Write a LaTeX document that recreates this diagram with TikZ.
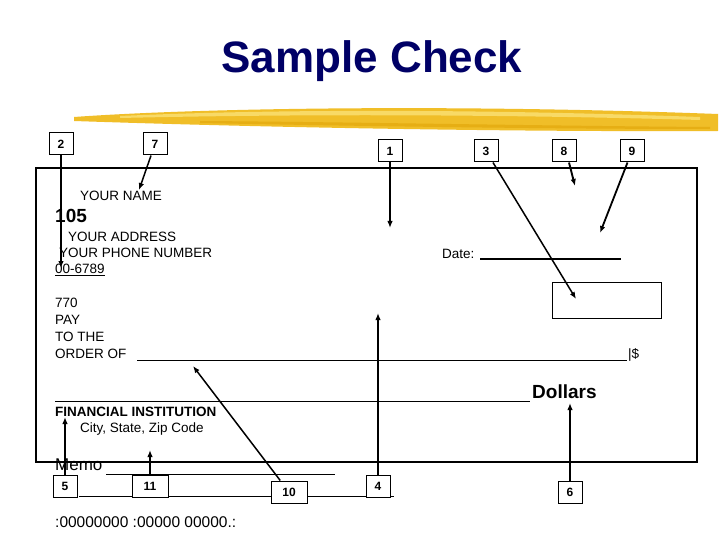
\documentclass[tikz,border=0pt]{standalone}
\usepackage{fontspec}
\setmainfont{Liberation Sans}
\usetikzlibrary{arrows.meta,positioning}
\definecolor{CheckNavy}{HTML}{000066}
\definecolor{CheckGold}{HTML}{F0BE28}
\definecolor{CheckDeep}{HTML}{E6AE14}
\definecolor{CheckPale}{HTML}{F8DA66}
\newcommand{\fsz}[1]{\fontsize{#1}{#1}\selectfont}
\tikzset{
  numbox/.style={
    draw,
    fill=white,
    line width=1pt,
    minimum width=24pt,
    minimum height=22pt,
    inner sep=0pt,
    font=\fsz{12}\bfseries
  },
  widebox/.style={numbox,minimum width=36pt},
  field/.style={anchor=west,inner sep=0pt,font=\fsz{13.5}},
  pointer/.style={-{Latex[length=7pt,width=5.5pt]},line width=2.3pt},
  slant/.style={-{Latex[length=7pt,width=5.5pt]},line width=1.5pt},
  rule/.style={line width=1pt}
}

\begin{document}
\begin{tikzpicture}[x=1pt,y=-1pt]
  \useasboundingbox (0,0) rectangle (720,540);
  \fill[white] (0,0) rectangle (720,540);

  % title with brush stroke
  \node[font=\fsz{44}\bfseries,text=CheckNavy] (title) at (372,61) {Sample Check};
  \fill[CheckGold] (74,117) .. controls (200,108) and (450,104) .. (718,114)
    -- (718,131) .. controls (500,132) and (250,127) .. (74,121) -- cycle;
  \fill[CheckDeep] (200,121) .. controls (350,122) and (550,126) .. (710,127)
    -- (710,129) .. controls (550,129) and (350,126) .. (200,123) -- cycle;
  \fill[CheckPale] (120,116) .. controls (250,110) and (450,108) .. (700,117)
    -- (700,120) .. controls (450,113) and (250,115) .. (120,118) -- cycle;

  % check body
  \draw[line width=1.4pt] (36,168) rectangle (697,462);

  \node[field] (name) at (80,196) {YOUR NAME};
  \node[field,font=\fsz{19}\bfseries] (number) at (55,216) {105};
  \node[field] (address) at (68,237) {YOUR ADDRESS};
  \node[field] (phone) at (59,253) {YOUR PHONE NUMBER};
  \node[field] (routing) at (55,270) {\underline{00-6789}};

  \node[field] (date) at (442,254) {Date:};
  \draw[line width=2.2pt] (480,259) -- (621,259);
  \node[draw,rule,anchor=north west,minimum width=109pt,minimum height=36pt] (amount) at (552,282) {};

  \node[field] (code) at (55,303) {770};
  \node[field] (pay) at (55,320) {PAY};
  \node[field] (tothe) at (55,337) {TO THE};
  \node[field] (orderof) at (55,354) {ORDER OF};
  \draw[rule] (137,360) -- (627,360);
  \node[field] (sign) at (628,355) {|\$};

  \draw[rule] (55,401) -- (530,401);
  \node[field,font=\fsz{19}\bfseries] (dollars) at (532,392) {Dollars};

  \node[field,font=\fsz{13.5}\bfseries] (bank) at (55,412) {FINANCIAL INSTITUTION};
  \node[field] (city) at (80,429) {City, State, Zip Code};

  \node[field,font=\fsz{17}] (memo) at (55,465) {Memo};
  \draw[rule] (106,474) -- (335,474);
  \draw[rule] (79,496) -- (394,496);
  \node[field,font=\fsz{15.5}] (micr) at (55,522) {:00000000 :00000 00000.:};

  % numbered markers
  \node[numbox] (n2) at (61,144) {2};
  \node[numbox] (n7) at (155,144) {7};
  \node[numbox] (n1) at (390,151) {1};
  \node[numbox] (n3) at (486,151) {3};
  \node[numbox] (n8) at (564,151) {8};
  \node[numbox] (n9) at (632,151) {9};
  \node[numbox] (n5) at (65,486.5) {5};
  \node[widebox] (n11) at (150,486.5) {11};
  \node[widebox] (n10) at (289,492) {10};
  \node[numbox] (n4) at (378,486) {4};
  \node[numbox] (n6) at (570,492.5) {6};

  \coordinate (t2) at (61,268);
  \coordinate (t7) at (139,190);
  \coordinate (t1) at (390,228);
  \coordinate (t3) at (576,299);
  \coordinate (t8) at (575,186);
  \coordinate (t9) at (600,233);
  \coordinate (t5) at (65,417);
  \coordinate (t11) at (150,450);
  \coordinate (t10) at (193,366);
  \coordinate (t4) at (378,313);
  \coordinate (t6) at (570,403);

  \draw[pointer] (n2) -- (t2);
  \draw[slant] (n7) -- (t7);
  \draw[pointer] (n1) -- (t1);
  \draw[slant] (n3) -- (t3);
  \draw[slant,line width=1.9pt] ([xshift=5pt]n8.south) -- (t8);
  \draw[slant,line width=1.8pt] (n9) -- (t9);
  \draw[pointer] (n5) -- (t5);
  \draw[pointer] (n11) -- (t11);
  \draw[slant] (n10) -- (t10);
  \draw[pointer] (n4) -- (t4);
  \draw[pointer] (n6) -- (t6);
\end{tikzpicture}
\end{document}
